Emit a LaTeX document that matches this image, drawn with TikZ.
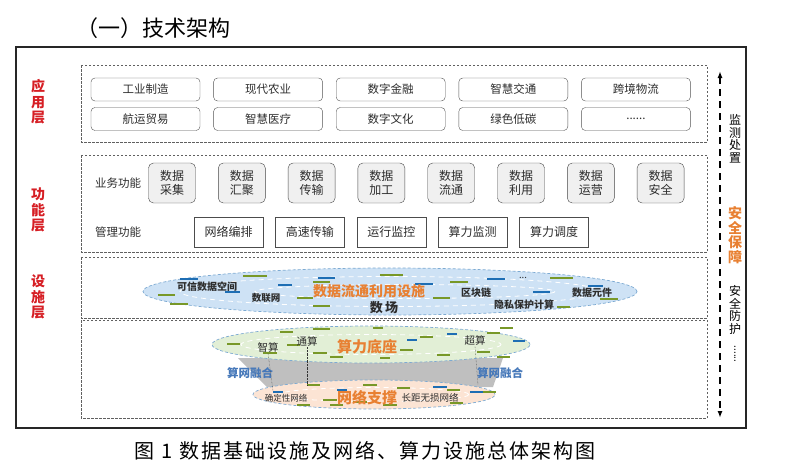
\documentclass[tikz,border=0pt]{standalone}
\usepackage{fontspec}
\setmainfont{Noto Sans CJK SC}
\usetikzlibrary{shapes.geometric, arrows.meta, positioning, calc}
\definecolor{layerRed}{RGB}{214,30,36}
\definecolor{safeOrange}{RGB}{232,128,50}
\definecolor{fuseBlue}{RGB}{70,120,185}
\definecolor{barGreen}{RGB}{120,152,40}
\definecolor{barBlue}{RGB}{30,110,180}
\definecolor{fieldBlue}{RGB}{206,226,245}
\definecolor{baseGreen}{RGB}{226,239,214}
\definecolor{netOrange}{RGB}{252,228,212}
\definecolor{rimBlue}{RGB}{125,170,210}
\definecolor{textGray}{RGB}{45,45,45}
\newcommand{\moredots}{......}
\tikzstyle{layerbox} = [draw=gray!75!black, dash pattern=on 2.5pt off 1.5pt, line width=0.8pt]
\tikzstyle{layerlabel} = [align=center, text=layerRed, font=\fontsize{14}{15.5}\selectfont\bfseries]
\tikzstyle{appbox} = [rounded corners=4pt, draw=gray!65!black, minimum width=109pt, minimum height=23pt, text=textGray, font=\fontsize{11.5}{12}\selectfont]
\tikzstyle{bizbox} = [rounded corners=5pt, draw=gray!55!black, fill=gray!12, minimum width=47pt, minimum height=40pt, align=center, text=textGray, font=\fontsize{12}{13.5}\selectfont]
\tikzstyle{mgmtbox} = [draw=gray!60!black, fill=white, minimum width=69pt, minimum height=30pt, text=textGray, font=\fontsize{12}{13}\selectfont]
\tikzstyle{rowlabel} = [text=textGray, font=\fontsize{11.5}{12}\selectfont]
\tikzstyle{small} = [text=textGray, font=\fontsize{9.5}{10}\selectfont, inner sep=1pt]
\tikzstyle{core} = [text=safeOrange, font=\fontsize{14}{15}\selectfont\bfseries, inner sep=1pt]
\tikzstyle{gbar} = [barGreen, line width=2.4pt]
\tikzstyle{bbar} = [barBlue, line width=2.4pt]
\tikzstyle{plate} = [ellipse, draw=rimBlue, dash pattern=on 3pt off 2pt, line width=0.7pt]
\tikzstyle{ripple} = [white, dash pattern=on 5pt off 4pt, line width=0.8pt]

\begin{document}
\begin{tikzpicture}[x=1pt, y=-1pt]
            \useasboundingbox (0,0) rectangle (800,471);
            % Title and caption
            \node[font=\fontsize{22}{23}\selectfont] (title) at (153,28) {（一）技术架构};
            \node[font=\fontsize{20}{21}\selectfont\addfontfeatures{LetterSpace=10}] (caption) at (365,451) {图 1 数据基础设施及网络、算力设施总体架构图};
            
            % Outer frame
            \draw[line width=1.1pt, gray!30!black] (16,47) rectangle (746,428);
            
            % Layer frames
            \draw[layerbox] (81,65) rectangle (707,142);
            \draw[layerbox] (81,155) rectangle (707,252);
            \draw[layerbox] (81,257) rectangle (707,318);
            \draw[layerbox] (81,320) rectangle (707,418);
            
            % Layer names
            \node[layerlabel] (applayer) at (38,102) {应\\用\\层};
            \node[layerlabel] (funclayer) at (38,210) {功\\能\\层};
            \node[layerlabel] (faclayer) at (38,297) {设\\施\\层};
            
            % Application layer
            \foreach \name [count=\i] in {工业制造,现代农业,数字金融,智慧交通,跨境物流}
                \node[appbox] (appA\i) at ({145.5+122.6*(\i-1)},89.5) {\name};
            \foreach \name [count=\i] in {航运贸易,智慧医疗,数字文化,绿色低碳,\moredots}
                \node[appbox] (appB\i) at ({145.5+122.6*(\i-1)},119) {\name};
            
            % Function layer
            \node[rowlabel] (bizlabel) at (118,183) {业务功能};
            \node[rowlabel] (mgmtlabel) at (118,232) {管理功能};
            \foreach \name [count=\i] in {采集,汇聚,传输,加工,流通,利用,运营,安全}
                \node[bizbox] (biz\i) at ({172+69.8*(\i-1)},183) {数据\\\name};
            \foreach \name [count=\i] in {网络编排,高速传输,运行监控,算力监测,算力调度}
                \node[mgmtbox] (mgmt\i) at ({228.5+81.4*(\i-1)},232) {\name};
            
            % Data field
            \node[plate, fill=fieldBlue, minimum width=494pt, minimum height=47pt] (field) at (390,291.5) {};
            \draw[ripple] (field.center) ellipse (210 and 15);
            \draw[ripple] ([xshift=15pt]field.center) ellipse (150 and 7);
            \foreach \x/\y/\w in {243/276/24, 313/282/17, 380/275/23, 158/295/17, 170/304/18, 297/298/16, 313/306/17, 433/298/17, 450/282/18, 550/278/23, 557/307/13, 600/299/18}
                \draw[gbar] (\x,\y) -- ++(\w,0);
            \foreach \x/\y/\w in {180/279/18, 278/285/14, 318/278/17, 415/284/18, 225/292/15, 487/279/18, 533/292/17, 588/286/15}
                \draw[bbar] (\x,\y) -- ++(\w,0);
            \node[small, font=\fontsize{10}{10}\selectfont\bfseries] (trust) at (207,287) {可信数据空间};
            \node[small, font=\fontsize{9.5}{10}\selectfont\bfseries] (dnet) at (266,298) {数联网};
            \node[core] (fieldname) at (369,291) {数据流通利用设施};
            \node[small, font=\fontsize{13}{14}\selectfont\bfseries] (shuchang) at (384,308) {数\,场};
            \node[small, font=\fontsize{10}{10}\selectfont\bfseries] (chain) at (476,293) {区块链};
            \node[small, font=\fontsize{10}{10}\selectfont\bfseries] (privacy) at (524,305) {隐私保护计算};
            \node[small, font=\fontsize{10}{10}\selectfont\bfseries] (element) at (592,293) {数据元件};
            \node[small] (more) at (523,278) {...};
            
            % Compute base and network support
            \fill[gray!50] (238,358) -- (503,358) -- (493,387) -- (267,387) -- cycle;
            \node[plate, fill=netOrange, minimum width=242pt, minimum height=29pt] (net) at (374,394.5) {};
            \draw[ripple] (net.center) ellipse (95 and 7);
            \node[plate, fill=baseGreen, minimum width=318pt, minimum height=37pt] (base) at (371,344.5) {};
            \draw[ripple] (base.center) ellipse (130 and 10);
            \foreach \x/\y/\w in {280/332/13, 313/329/17, 373/328/10, 420/337/13, 487/333/13, 500/328/13, 227/344/13, 287/345/13, 313/353/14, 330/357/13, 380/358/10, 400/350/13, 437/355/13, 477/352/13, 497/357/13, 263/353/14}
                \draw[gbar] (\x,\y) -- ++(\w,0);
            \foreach \x/\y/\w in {407/340/10, 447/334/10, 513/341/12}
                \draw[bbar] (\x,\y) -- ++(\w,0);
            \foreach \x/\y/\w in {307/385/13, 363/385/14, 397/388/13, 447/390/13, 323/400/14, 330/405/13, 353/402/14, 297/405/13, 383/405/14, 450/403/13, 483/392/13}
                \draw[gbar] (\x,\y) -- ++(\w,0);
            \foreach \x/\y/\w in {337/390/10, 433/387/14, 470/392/13, 273/392/10}
                \draw[bbar] (\x,\y) -- ++(\w,0);
            \node[small, font=\fontsize{10.5}{11}\selectfont] (zhisuan) at (268,347) {智算};
            \node[small, font=\fontsize{10.5}{11}\selectfont] (tongsuan) at (307,341) {通算};
            \node[small, font=\fontsize{10.5}{11}\selectfont] (chaosuan) at (475,340) {超算};
            \node[core, font=\fontsize{15}{16}\selectfont\bfseries] (basename) at (367,347) {算力底座};
            \node[small, font=\fontsize{8.5}{9}\selectfont] (determ) at (286,398) {确定性网络};
            \node[core, font=\fontsize{15}{16}\selectfont\bfseries] (netname) at (367,398) {网络支撑};
            \node[small, font=\fontsize{9.5}{10}\selectfont] (lossless) at (430,398) {长距无损网络};
            \node[text=fuseBlue, font=\fontsize{11.5}{12}\selectfont\bfseries] (fuseL) at (250,373) {算网融合};
            \node[text=fuseBlue, font=\fontsize{11.5}{12}\selectfont\bfseries] (fuseR) at (500,373) {算网融合};
            
            % Dotted links
            \coordinate (zhiend) at (273,391);
            \coordinate (tongend) at (307,385);
            \coordinate (chaoend) at (478,385);
            \draw[densely dotted, gray!40!black, thin] (zhisuan.south) -- (zhiend);
            \draw[densely dotted, gray!40!black, thin] (tongsuan.south) -- (tongend);
            \draw[densely dotted, gray!40!black, thin] (chaosuan.south) -- (chaoend);
            
            % Security column
            \coordinate (sectop) at (720,71);
            \coordinate (secbot) at (720,418);
            \draw[line width=2pt, dash pattern=on 7pt off 5pt, {Latex[length=7pt,width=5pt]}-{Latex[length=7pt,width=5pt]}] (sectop) -- (secbot);
            \node[align=center, font=\fontsize{12}{12.5}\selectfont] (monitor) at (735,139) {监\\测\\处\\置};
            \node[align=center, text=safeOrange, font=\fontsize{14}{14.5}\selectfont\bfseries] (secure) at (735,235) {安\\全\\保\\障};
            \node[align=center, font=\fontsize{12}{12.5}\selectfont] (protect) at (735,310) {安\\全\\防\\护};
            \node[rotate=-90, font=\fontsize{10}{10}\selectfont] (dots) at (735,354) {\moredots};
                
        \end{tikzpicture}
\end{document}
